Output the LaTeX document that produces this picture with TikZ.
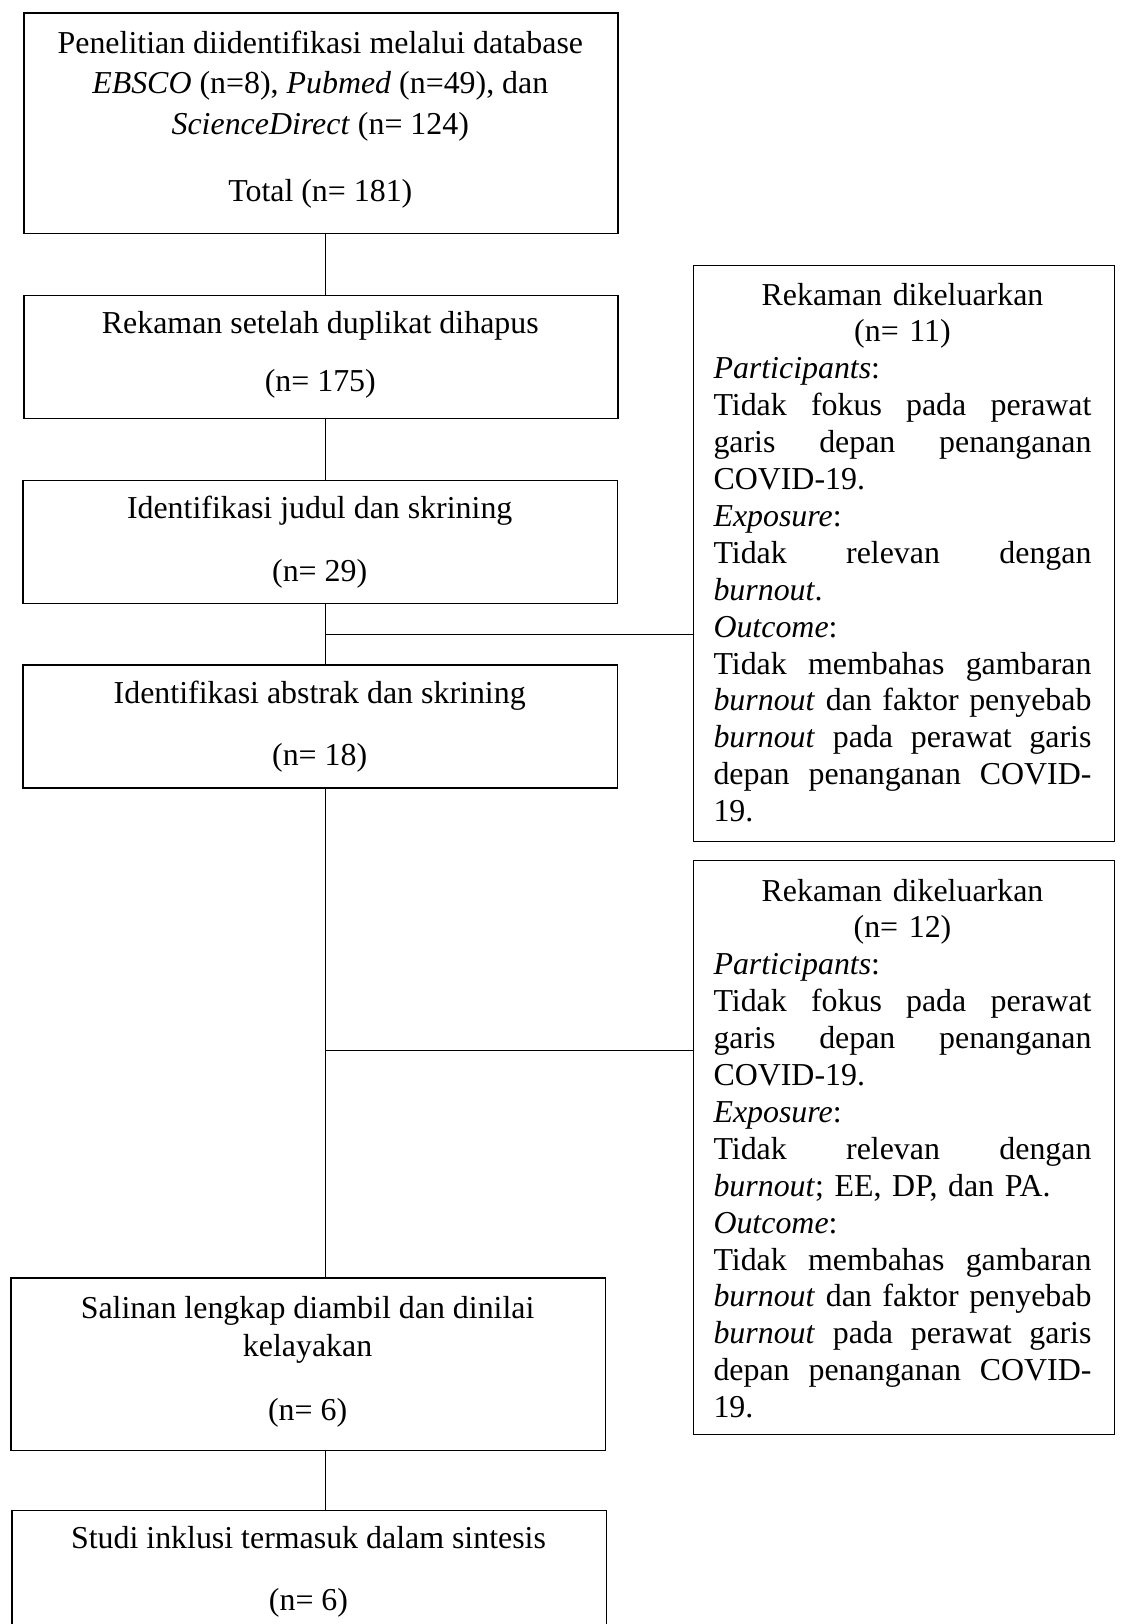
\documentclass[tikz,border=0pt]{standalone}
\usepackage{fontspec}
\setmainfont{Liberation Serif}
\newcommand\jline[1]{\hbox to\linewidth{\spaceskip=0.25em plus 1fil\relax #1}}
\begin{document}
\begin{tikzpicture}[x=1pt,y=-1pt,
  box/.style={draw=black, line width=1.3pt, anchor=north west, inner sep=0pt},
  conn/.style={draw=black, line width=1pt},
  ln/.style={anchor=base, inner sep=0pt, font=\fontsize{31.9}{36.9}\selectfont},
  rtxt/.style={anchor=base west, inner sep=0pt, text width=378pt, font=\fontsize{31.9}{36.9}\selectfont}
]
\useasboundingbox (0,0) rectangle (1120,1624);
\fill[white] (0,0) rectangle (1120,1624);

% left boxes
\node[box, minimum width=594pt, minimum height=220pt] (b1) at (23.3,12.5) {};
\node[box, minimum width=594pt, minimum height=122.5pt] (b2) at (23.3,295) {};
\node[box, minimum width=594.6pt, minimum height=122.5pt] (b3) at (22.4,480) {};
\node[box, minimum width=594.6pt, minimum height=123pt] (b4) at (22.4,664.3) {};
\node[box, minimum width=594.8pt, minimum height=172.2pt] (b5) at (10.2,1277.3) {};
\node[box, minimum width=594.3pt, minimum height=125pt] (b6) at (11.4,1510) {};

% right boxes
\node[box, minimum width=420.8pt, minimum height=576pt] (r1) at (692.7,265) {};
\node[box, minimum width=420.8pt, minimum height=574pt] (r2) at (692.7,860) {};

% left texts
\node[ln] (b1a) at (320.3,53.5) {Penelitian diidentifikasi melalui database};
\node[ln] (b1b) at (320.3,94) {\textit{EBSCO} (n=8), \textit{Pubmed} (n=49), dan};
\node[ln] (b1c) at (320.3,135) {\textit{ScienceDirect} (n= 124)};
\node[ln] (b1d) at (320.3,201.5) {Total (n= 181)};

\node[ln] (b2a) at (320.3,333.3) {Rekaman setelah duplikat dihapus};
\node[ln] (b2b) at (320.3,391.5) {(n= 175)};

\node[ln] (b3a) at (319.7,518.3) {Identifikasi judul dan skrining};
\node[ln] (b3b) at (319.7,581) {(n= 29)};

\node[ln] (b4a) at (319.7,703) {Identifikasi abstrak dan skrining};
\node[ln] (b4b) at (319.7,765) {(n= 18)};

\node[ln] (b5a) at (307.6,1318.5) {Salinan lengkap diambil dan dinilai};
\node[ln] (b5b) at (307.6,1356.5) {kelayakan};
\node[ln] (b5c) at (307.6,1420) {(n= 6)};

\node[ln] (b6a) at (308.5,1548) {Studi inklusi termasuk dalam sintesis};
\node[ln] (b6b) at (308.5,1610) {(n= 6)};

% right texts
\node[rtxt] (r1t) at (713.3,305) {%
\makebox[\linewidth][c]{Rekaman dikeluarkan}\par
\makebox[\linewidth][c]{(n= 11)}\par
\textit{Participants}:\par
\jline{Tidak fokus pada perawat}
\jline{garis depan penanganan}
COVID-19.\par
\textit{Exposure}:\par
\jline{Tidak relevan dengan}
\textit{burnout}.\par
\textit{Outcome}:\par
\jline{Tidak membahas gambaran}
\jline{\textit{burnout} dan faktor penyebab}
\jline{\textit{burnout} pada perawat garis}
\jline{depan penanganan COVID-}
19.};

\node[rtxt] (r2t) at (713.3,901) {%
\makebox[\linewidth][c]{Rekaman dikeluarkan}\par
\makebox[\linewidth][c]{(n= 12)}\par
\textit{Participants}:\par
\jline{Tidak fokus pada perawat}
\jline{garis depan penanganan}
COVID-19.\par
\textit{Exposure}:\par
\jline{Tidak relevan dengan}
\textit{burnout}; EE, DP, dan PA.\par
\textit{Outcome}:\par
\jline{Tidak membahas gambaran}
\jline{\textit{burnout} dan faktor penyebab}
\jline{\textit{burnout} pada perawat garis}
\jline{depan penanganan COVID-}
19.};

% connectors
\coordinate (cx) at (325.5,0);
\coordinate (j1) at (325.5,634);
\coordinate (j2) at (325.5,1050.5);
\draw[conn] (b1.south -| cx) -- (b2.north -| cx);
\draw[conn] (b2.south -| cx) -- (b3.north -| cx);
\draw[conn] (b3.south -| cx) -- (b4.north -| cx);
\draw[conn] (b4.south -| cx) -- (b5.north -| cx);
\draw[conn] (b5.south -| cx) -- (b6.north -| cx);
\draw[conn] (j1) -- (j1 -| r1.west);
\draw[conn] (j2) -- (j2 -| r2.west);
\end{tikzpicture}
\end{document}
